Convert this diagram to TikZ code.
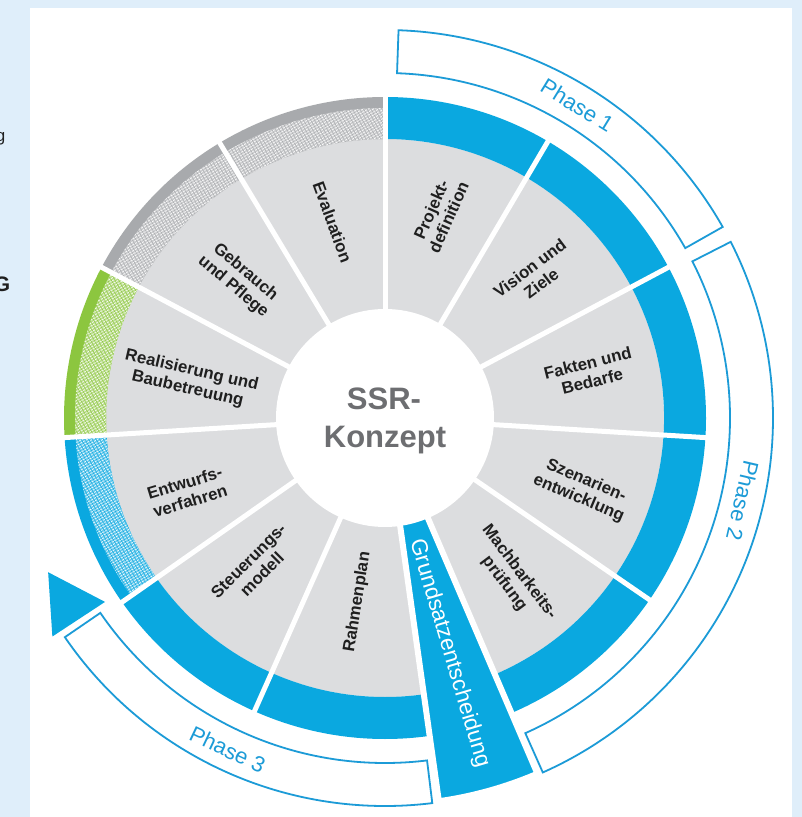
\documentclass[tikz,border=0pt]{standalone}
\usepackage{fontspec}
\setmainfont{Liberation Sans}
\usetikzlibrary{patterns.meta}

\definecolor{bgblue}{HTML}{DFEEFA}
\definecolor{seggray}{HTML}{DCDDDF}
\definecolor{ringblue}{HTML}{0AA8E0}
\definecolor{lineblue}{HTML}{1C9BD7}
\definecolor{ringgray}{HTML}{A8AAAD}
\definecolor{ringgreen}{HTML}{8CC63F}
\definecolor{labelink}{HTML}{1F1F1F}
\definecolor{coregray}{HTML}{6D6E71}

% annular sector: start angle, end angle, inner radius, outer radius, path options
\newcommand\ringsector[5]{\path[#5] (#1:#3) arc[start angle=#1,end angle=#2,radius=#3]
  -- (#2:#4) arc[start angle=#2,end angle=#1,radius=#4] -- cycle;}

% outer band with a solid rim and a cross-hatched inner part
\newcommand\hatchband[4]{%
  \ringsector{#1}{#2}{279}{321}{fill=#3}
  \ringsector{#1}{#2}{279}{310}{fill=#4}
  \ringsector{#1}{#2}{279}{310}{pattern={Lines[angle=30,distance=2.6pt,line width=0.6pt]},pattern color=white}
  \ringsector{#1}{#2}{279}{310}{pattern={Lines[angle=-60,distance=3.2pt,line width=0.5pt]},pattern color=#3}
}

\begin{document}
\begin{tikzpicture}[x=1pt,y=1pt,
  seglabel/.style={font=\bfseries\fontsize{16.8}{19}\selectfont, text=labelink, align=center, inner sep=0pt},
  phasetext/.style={font=\fontsize{22}{24}\selectfont, text=lineblue, inner sep=0pt},
  phasebox/.style={draw=lineblue, line width=1.8pt, fill=white},
  divider/.style={draw=white, line width=5pt},
  coretext/.style={font=\bfseries\fontsize{31}{38}\selectfont, text=coregray, inner sep=0pt, anchor=base}]

\useasboundingbox (0,0) rectangle (802,817);
\clip (0,0) rectangle (802,817);
\fill[bgblue] (0,0) rectangle (802,817);
\fill[white] (30,0) rectangle (792,809);

% words running in from the left margin
\node[anchor=base east, inner sep=0pt, font=\fontsize{17}{19}\selectfont, text=labelink] (margin1) at (5.5,675) {g};
\node[anchor=base east, inner sep=0pt, font=\bfseries\fontsize{21}{24}\selectfont, text=labelink] (margin2) at (10.5,525) {G};

\begin{scope}[shift={(385,399)}]
  % step segments
  \fill[seggray] (0,0) circle[radius=279];

  % outer bands
  \hatchband{90}{152}{ringgray}{ringgray!60!white}
  \hatchband{152}{183.5}{ringgreen}{ringgreen!60!white}
  \hatchband{183.5}{215}{ringblue}{ringblue!62!white}
  \ringsector{215}{278}{279}{321}{fill=ringblue}
  \ringsector{-67}{90}{279}{321}{fill=ringblue}

  % decision wedge
  \path[fill=ringblue, draw=white, line width=6pt]
    (-82:100) -- (-82:387) arc[start angle=-82,end angle=-66.8,radius=387] -- (-66.8:100) -- cycle;

  % white dividers between the steps
  \foreach \a in {90,121,152,183.5,215,246,59.5,28,-3.5,-34.5}
    \draw[divider] (\a:100) -- (\a:326);

  % hub
  \fill[white] (0,0) circle[radius=109];
  \node[coretext] (coreA) at (-1,8) {SSR-};
  \node[coretext] (coreB) at (0,-30) {Konzept};

  % step labels
  \node[seglabel, rotate=-70] (evaluation) at (105:203) {Evaluation};
  \node[seglabel, rotate=-40] (gebrauch) at (136.5:201) {Gebrauch\\und Pflege};
  \node[seglabel, rotate=-13] (realisierung) at (169:199) {Realisierung und\\Baubetreuung};
  \node[seglabel, rotate=17] (entwurf) at (200.5:211) {Entwurfs-\\verfahren};
  \node[seglabel, rotate=45] (steuerung) at (229:198) {Steuerungs-\\modell};
  \node[seglabel, rotate=81] (rahmenplan) at (261.5:186) {Rahmenplan};
  \node[seglabel, rotate=66] (projekt) at (75:212) {Projekt-\\definition};
  \node[seglabel, rotate=37] (vision) at (43.4:207) {Vision und\\Ziele};
  \node[seglabel, rotate=14] (fakten) at (12.6:210) {Fakten und\\Bedarfe};
  \node[seglabel, rotate=-23] (szenarien) at (-20:210) {Szenarien-\\entwicklung};
  \node[seglabel, rotate=-53] (machbarkeit) at (-51.6:204) {Machbarkeits-\\prüfung};
  \node[font=\fontsize{22.5}{25}\selectfont, text=white, inner sep=0pt, rotate=-73.5] (grundsatz) at (-74.7:244) {Grundsatzentscheidung};

  % phase brackets
  \ringsector{29.5}{88}{345}{388}{phasebox}
  \ringsector{-66}{27}{345}{388}{phasebox}
  \ringsector{214.4}{277}{345}{388}{phasebox}
  \fill[ringblue] (213.3:335) -- (213.3:398) -- (204.6:370.5) -- cycle;

  \node[phasetext, rotate=-31.6] (phase1) at (58.4:367) {Phase 1};
  \node[phasetext, rotate=-103] (phase2) at (-13:367) {Phase 2};
  \node[phasetext, rotate=-25.4] (phase3) at (244.6:367) {Phase 3};
\end{scope}
\end{tikzpicture}
\end{document}
